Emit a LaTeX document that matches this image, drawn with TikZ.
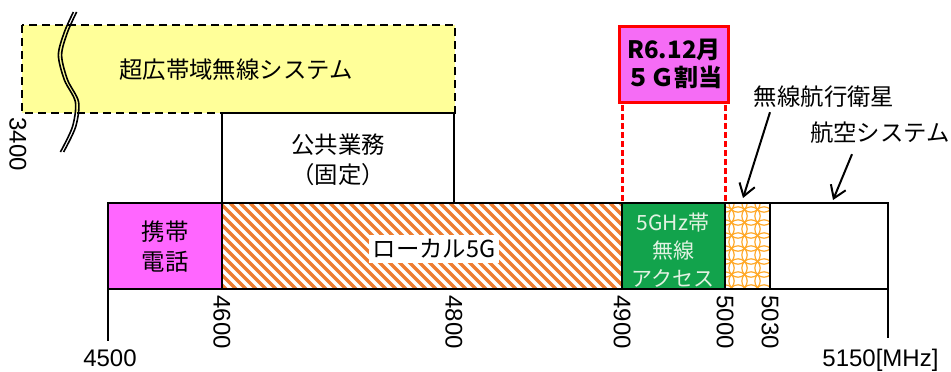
\documentclass[tikz,border=0pt]{standalone}
\usepackage{fontspec}
\setmainfont{Liberation Sans}
\newfontfamily\jp{Noto Sans CJK JP}
\usetikzlibrary{arrows.meta}
\definecolor{mobile}{RGB}{255,102,255}
\definecolor{alloc}{RGB}{245,108,245}
\definecolor{uwb}{RGB}{255,255,153}
\definecolor{wlan}{RGB}{18,163,76}
\definecolor{wlantext}{RGB}{226,242,226}
\definecolor{local}{RGB}{237,125,49}
\definecolor{rnss}{RGB}{255,168,40}
\tikzset{
  band/.style={draw,line width=1pt},
  lbl/.style={font=\jp\fontsize{11.7}{15}\selectfont,align=center,inner sep=1pt},
  freq/.style={font=\fontsize{12}{12}\selectfont,rotate=-90,anchor=west,inner sep=0pt},
  arr/.style={-{Straight Barb[length=6pt,width=8pt]},line width=1pt},
}
\begin{document}
\begin{tikzpicture}[x=0.5pt,y=-0.5pt]
  \useasboundingbox (0,0) rectangle (951,371);
  % upper row
  \draw[fill=uwb,dash pattern=on 4pt off 2.5pt,line width=0.8pt] (22,25) rectangle (455,113);
  \node[lbl] (uwb) at (236,70) {超広帯域無線システム};
  \foreach \s in {-1.6,1.6}
    \draw[line width=0.8pt,xshift=\s*0.5pt] plot[smooth] coordinates {(75,12) (66,32) (60,55) (66,80) (77,102) (74,127) (62,152)};
  \node[freq] (f3400) at (18,117) {3400};
  \draw[band,fill=white] (222,113) rectangle (454,203);
  \node[lbl] (pub) at (338,160) {公共業務\\（固定）};
  % main band
  \fill[mobile] (108,203) rectangle (222,289);
  \begin{scope}
    \clip (222,203) rectangle (622,289);
    \foreach \x in {130,140,...,620}
      \draw[local,line width=1.7pt] (\x,203) -- ++(86,86);
  \end{scope}
  \fill[wlan] (622,203) rectangle (725,289);
  \begin{scope}
    \clip (725,203) rectangle (770,289);
    \foreach \x in {725,738,...,775}
      \foreach \y in {203,216,...,295}
        \draw[rnss,line width=0.6pt] (\x,\y) circle[radius=4.6pt];
  \end{scope}
  \draw[band] (108,203) rectangle (888,289);
  \foreach \x in {222,622,725,770}
    \draw[band] (\x,203) -- (\x,289);
  \draw[band] (108,289) -- (108,341);
  \draw[band] (888,289) -- (888,338);
  \foreach \x/\f in {222/4600,454/4800,622/4900,725/5000,770/5030}
    \node[freq] (f\f) at (\x,295) {\f};
  \node[font=\fontsize{12}{12}\selectfont,anchor=north,inner sep=0pt] (f4500) at (110,349) {4500};
  \node[font=\fontsize{12}{12}\selectfont,anchor=north west,inner sep=0pt] (f5150) at (822,349) {5150[MHz]};
  \node[lbl] (mob) at (165,247) {携帯\\電話};
  \node[lbl,fill=white,inner sep=2pt] (lcl) at (434,249) {ローカル5G};
  \node[lbl,text=wlantext,font=\jp\fontsize{10.5}{14}\selectfont] (acc) at (673,250) {5GHz帯\\無線\\アクセス};
  % 5G allocation
  \node[draw=red,line width=1.5pt,fill=alloc,minimum width=51pt,minimum height=38pt,align=center,
    font=\jp\bfseries\fontsize{12}{14}\selectfont] (r6) at (674,64) {R6.12月\\５Ｇ割当};
  \foreach \x in {622,725}
    \draw[red,line width=1.5pt,dash pattern=on 3pt off 1.5pt] (\x,105) -- (\x,203);
  % other services
  \node[lbl] (nav) at (824,97) {無線航行衛星};
  \node[lbl] (aero) at (880,133) {航空システム};
  \draw[arr] ([xshift=-27pt,yshift=-1pt]nav.south) -- (743,198);
  \draw[arr] ([xshift=-14pt,yshift=-4pt]aero.south) -- (833,200);
\end{tikzpicture}
\end{document}
